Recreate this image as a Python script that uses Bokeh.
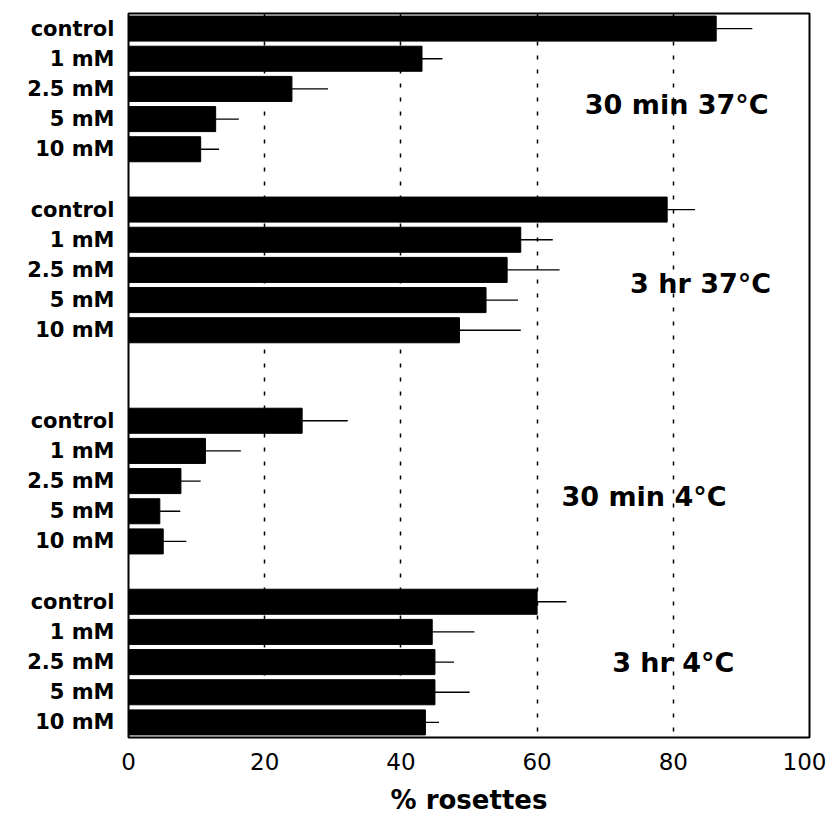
from bokeh.plotting import figure
from bokeh.models import Range1d, FixedTicker, Label
from bokeh.embed import file_html
from bokeh.resources import INLINE

# ---- data ----
conditions = ["30 min 37°C", "3 hr 37°C", "30 min 4°C", "3 hr 4°C"]
treatments = ["control", "1 mM", "2.5 mM", "5 mM", "10 mM"]

rosettes_30min_37 = [86.3, 43.1, 24.0, 12.8, 10.6]
errors_30min_37 = [5.3, 3.0, 5.3, 3.4, 2.7]
rosettes_3hr_37 = [79.1, 57.6, 55.6, 52.5, 48.6]
errors_3hr_37 = [4.1, 4.7, 7.7, 4.7, 9.0]
rosettes_30min_4 = [25.5, 11.3, 7.7, 4.6, 5.1]
errors_30min_4 = [6.7, 5.2, 2.9, 3.0, 3.4]
rosettes_3hr_4 = [60.0, 44.6, 45.0, 45.0, 43.6]
errors_3hr_4 = [4.3, 6.2, 2.8, 5.1, 2.0]

x_ticks = [0, 20, 40, 60, 80, 100]
grid_ticks = [20, 40, 60, 80]

# ---- layout (slot positions, label placement) ----
group_offsets = [0, 6, 13, 19]
label_x = [80.5, 84.0, 75.7, 80.0]
label_y = [2.5, 8.45, 15.5, 21.0]

values = [rosettes_30min_37, rosettes_3hr_37, rosettes_30min_4, rosettes_3hr_4]
errors = [errors_30min_37, errors_3hr_37, errors_30min_4, errors_3hr_4]

ys, vals, errs, labels = [], [], [], {}
for g, off in enumerate(group_offsets):
    for i, t in enumerate(treatments):
        y = off + i
        ys.append(y)
        vals.append(values[g][i])
        errs.append(values[g][i] + errors[g][i])
        labels[y] = t

p = figure(width=826, height=817, output_backend="svg", toolbar_location=None,
           x_range=Range1d(0, 100), y_range=Range1d(23.5, -0.5),
           min_border_left=128, min_border_right=17, min_border_top=13,
           min_border_bottom=80)
p.background_fill_color = "white"
p.border_fill_color = "white"
p.outline_line_color = "black"
p.outline_line_width = 2
p.outline_line_alpha = 1

# grid
p.ygrid.grid_line_color = None
p.xgrid.ticker = FixedTicker(ticks=grid_ticks)
p.xgrid.grid_line_color = "black"
p.xgrid.grid_line_alpha = 1
p.xgrid.grid_line_width = 1.5
p.xgrid.grid_line_dash = "4 10"

# bars + one-sided error bars
p.hbar(y=ys, left=0, right=vals, height=0.83, fill_color="black", line_color="black")
p.segment(x0=vals, y0=ys, x1=errs, y1=ys, line_color="black", line_width=1.3)

# axes
p.xaxis.ticker = FixedTicker(ticks=x_ticks)
p.xaxis.axis_line_color = None
p.xaxis.major_tick_line_color = None
p.xaxis.minor_tick_line_color = None
p.xaxis.major_label_standoff = 9
p.xaxis.major_label_text_font = "DejaVu Sans"
p.xaxis.major_label_text_font_size = "23px"
p.xaxis.major_label_text_color = "black"
p.xaxis.axis_label = "% rosettes"
p.xaxis.axis_label_text_font = "DejaVu Sans"
p.xaxis.axis_label_text_font_style = "bold"
p.xaxis.axis_label_text_font_size = "26px"
p.xaxis.axis_label_text_color = "black"
p.xaxis.axis_label_standoff = 12

p.yaxis.ticker = FixedTicker(ticks=ys)
p.yaxis.major_label_overrides = labels
p.yaxis.axis_line_color = None
p.yaxis.major_tick_line_color = None
p.yaxis.minor_tick_line_color = None
p.yaxis.major_label_standoff = 8
p.yaxis.major_label_text_font = "DejaVu Sans"
p.yaxis.major_label_text_font_style = "bold"
p.yaxis.major_label_text_font_size = "21px"
p.yaxis.major_label_text_color = "black"

# condition annotations
for name, lx, ly in zip(conditions, label_x, label_y):
    p.add_layout(Label(x=lx, y=ly, text=name, text_align="center",
                       text_baseline="middle", text_font="DejaVu Sans",
                       text_font_style="bold", text_font_size="27px",
                       text_color="black"))

open("out.html", "w").write(file_html(p, INLINE))
